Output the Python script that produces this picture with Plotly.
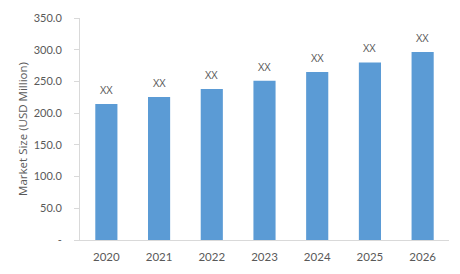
import plotly.graph_objects as go

years = ["2020", "2021", "2022", "2023", "2024", "2025", "2026"]
market_size = [214.5, 225.5, 238.0, 251.0, 265.0, 280.0, 296.5]
bar_labels = ["XX", "XX", "XX", "XX", "XX", "XX", "XX"]
y_tick_values = [0, 50, 100, 150, 200, 250, 300, 350]
y_tick_labels = ["-", "50.0", "100.0", "150.0", "200.0", "250.0", "300.0", "350.0"]

FONT = "Lato, 'Open Sans', sans-serif"
TFONT = "'Open Sans', Lato, sans-serif"
GRAY = "#595959"
AXIS = "#D9D9D9"

fig = go.Figure(
    go.Bar(
        x=years,
        y=market_size,
        cliponaxis=False,
        marker=dict(color="#5B9BD5", line=dict(width=0)),
    )
)

# category axis positions are the category indices
for idx, (val, lab) in enumerate(zip(market_size, bar_labels)):
    fig.add_annotation(
        x=idx, y=val, xref="x", yref="y", text=lab, showarrow=False,
        yanchor="bottom", yshift=5,
        font=dict(family=TFONT, size=11, color=GRAY),
    )

fig.update_layout(
    width=460,
    height=274,
    margin=dict(l=80, r=11, t=15, b=33),
    paper_bgcolor="white",
    plot_bgcolor="white",
    bargap=0.58,
    showlegend=False,
    font=dict(family=FONT, size=11, color=GRAY),
    xaxis=dict(
        type="category",
        categoryorder="array",
        categoryarray=years,
        range=[-0.5, len(years) - 0.5],
        showline=True,
        linecolor=AXIS,
        linewidth=1,
        showgrid=False,
        ticks="",
        tickfont=dict(family=FONT, size=11.5, color=GRAY),
        ticklabelstandoff=6,
    ),
    yaxis=dict(
        range=[0, 350],
        tickvals=y_tick_values,
        ticktext=y_tick_labels,
        showline=True,
        linecolor=AXIS,
        linewidth=1,
        ticks="outside",
        ticklen=5,
        tickcolor=AXIS,
        showgrid=False,
        zeroline=False,
        tickfont=dict(family=FONT, size=11, color=GRAY),
        ticklabelstandoff=10,
        title=dict(
            text="Market Size (USD Million)",
            font=dict(family=TFONT, size=11.5, color=GRAY),
            standoff=3,
        ),
    ),
)

fig.write_html("out.html")
